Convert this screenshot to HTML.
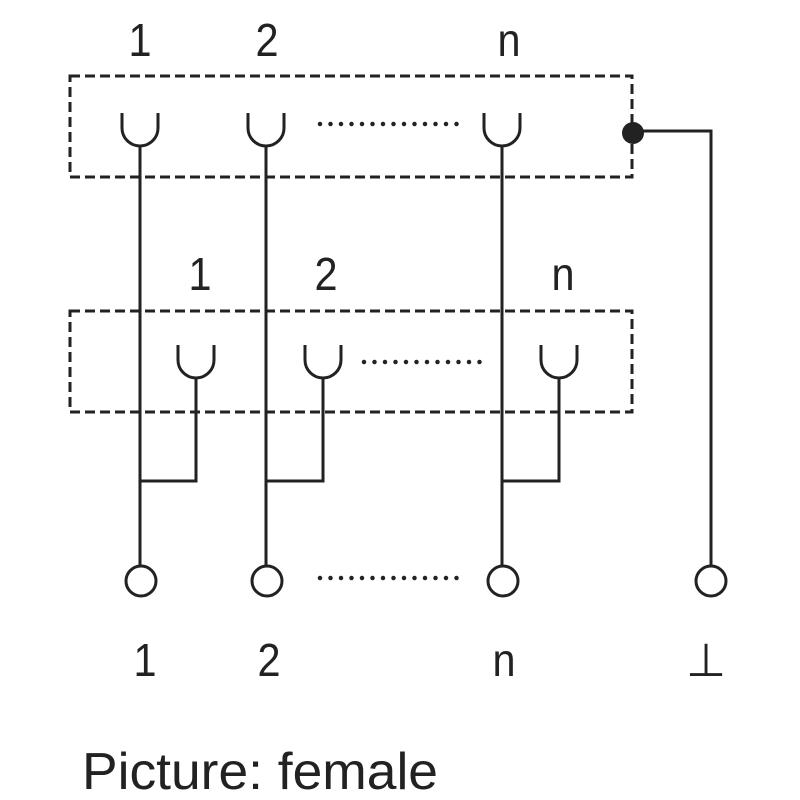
<!DOCTYPE html>
<html><head><meta charset="utf-8"><style>html,body{margin:0;padding:0;background:#fff}svg{display:block}</style></head>
<body>
<svg width="800" height="800" viewBox="0 0 800 800" xmlns="http://www.w3.org/2000/svg">
<g fill="none" stroke="#222" stroke-width="3">
<rect x="70" y="76" width="562" height="101" stroke-dasharray="10,5"/>
<rect x="70" y="311" width="562" height="101" stroke-dasharray="10,5"/>
<path d="M122,113 V128 A18,18 0 0 0 158,128 V113"/>
<path d="M248,113 V128 A18,18 0 0 0 284,128 V113"/>
<path d="M484,113 V128 A18,18 0 0 0 520,128 V113"/>
<path d="M178,345 V360 A18,18 0 0 0 214,360 V345"/>
<path d="M305,345 V360 A18,18 0 0 0 341,360 V345"/>
<path d="M541,345 V360 A18,18 0 0 0 577,360 V345"/>
<path d="M140,146 V566"/>
<path d="M266,146 V566"/>
<path d="M502,146 V566"/>
<path d="M196,378 V481 H140"/>
<path d="M323,378 V481 H266"/>
<path d="M559,378 V481 H502"/>
<path d="M633,131 H711 V566"/>
<circle cx="141" cy="581" r="15"/>
<circle cx="267" cy="581" r="15"/>
<circle cx="503" cy="581" r="15"/>
<circle cx="711" cy="581" r="15"/>
</g>
<circle cx="633" cy="133" r="11" fill="#222"/>
<g stroke="#222" stroke-width="4.5" stroke-linecap="round" stroke-dasharray="0,10.5">
<path d="M320,124 H466"/>
<path d="M364,362 H486"/>
<path d="M320,578 H460"/>
</g>
<g font-family="Liberation Sans, sans-serif" font-size="46" fill="#222" text-anchor="middle">
<text x="140" y="56" transform="translate(140,0) scale(0.9,1) translate(-140,0)">1</text>
<text x="267" y="56" transform="translate(267,0) scale(0.9,1) translate(-267,0)">2</text>
<text x="509" y="56" transform="translate(509,0) scale(0.9,1) translate(-509,0)">n</text>
<text x="200" y="290" transform="translate(200,0) scale(0.9,1) translate(-200,0)">1</text>
<text x="326" y="290" transform="translate(326,0) scale(0.9,1) translate(-326,0)">2</text>
<text x="563" y="290" transform="translate(563,0) scale(0.9,1) translate(-563,0)">n</text>
<text x="145" y="676" transform="translate(145,0) scale(0.9,1) translate(-145,0)">1</text>
<text x="269" y="676" transform="translate(269,0) scale(0.9,1) translate(-269,0)">2</text>
<text x="504" y="676" transform="translate(504,0) scale(0.9,1) translate(-504,0)">n</text>
<text x="706" y="676">⊥</text>
</g>
<text x="82" y="789" font-family="Liberation Sans, sans-serif" font-size="52" fill="#222" textLength="356" lengthAdjust="spacingAndGlyphs">Picture: female</text>
</svg>
</body></html>
